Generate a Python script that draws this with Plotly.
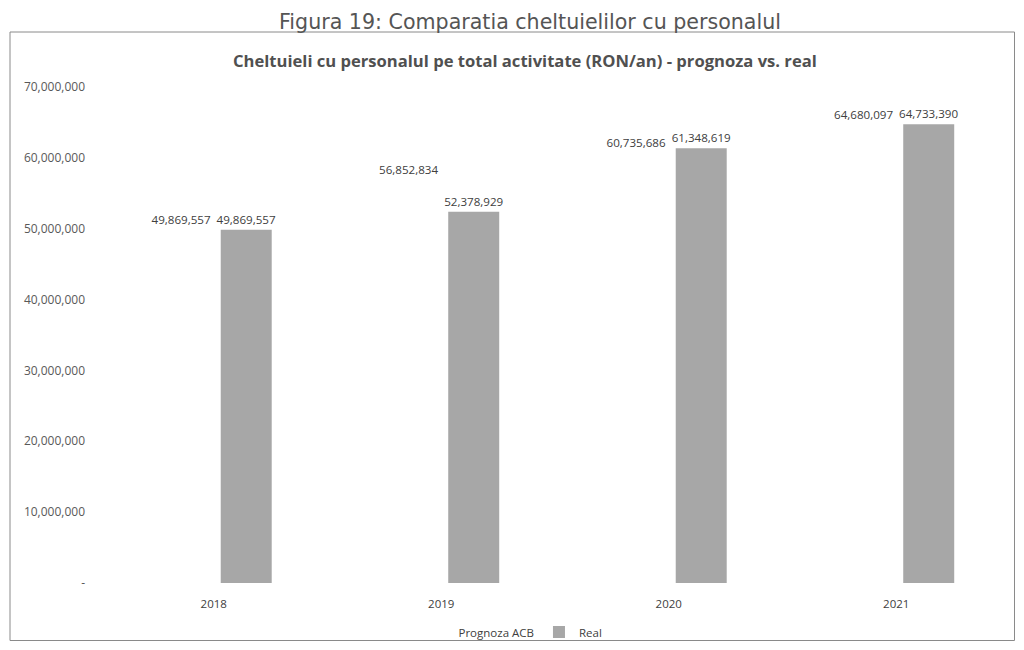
import plotly.graph_objects as go

years = ["2018", "2019", "2020", "2021"]
prognoza = [49869557, 56852834, 60735686, 64680097]
real = [49869557, 52378929, 61348619, 64733390]
y_ticks = [0, 10000000, 20000000, 30000000, 40000000, 50000000, 60000000, 70000000]
y_labels = ["-", "10,000,000", "20,000,000", "30,000,000", "40,000,000",
            "50,000,000", "60,000,000", "70,000,000"]

FONT = "Open Sans"
# page has an 8px body margin; figure sized so the page fills 1024x650
W, H = 1008, 634
L, T = 92, 79
PW, PH = 910, 496
fig = go.Figure()
fig.add_trace(go.Bar(
    x=years, y=prognoza, name="Prognoza ACB",
    marker=dict(color="white", line=dict(width=0)),
    texttemplate="%{y:,.0f}", textposition="outside", constraintext="none",
    outsidetextfont=dict(family=FONT, size=11.6, color="#404040"),
    cliponaxis=False,
))
fig.add_trace(go.Bar(
    x=years, y=real, name="Real",
    marker=dict(color="#a7a7a7", line=dict(width=0)),
    texttemplate="%{y:,.0f}", textposition="outside", constraintext="none",
    outsidetextfont=dict(family=FONT, size=11.6, color="#404040"),
    cliponaxis=False,
))


def px(xs):
    return (xs - 8 - L) / PW


def py(ys):
    return (T + PH - (ys - 8)) / PH


fig.update_layout(
    width=W, height=H,
    margin=dict(l=L, r=W - L - PW, t=T, b=H - T - PH, autoexpand=False),
    paper_bgcolor="white", plot_bgcolor="white",
    barmode="group", bargap=0.429, bargroupgap=0.215,
    font=dict(family=FONT, size=11, color="#404040"),
    showlegend=True,
    legend=dict(orientation="h", x=px(513), xanchor="center", y=py(632), yanchor="middle",
                bgcolor="rgba(0,0,0,0)",
                font=dict(family=FONT, size=11.5, color="#404040"), itemwidth=30),
    xaxis=dict(showgrid=False, showline=False, zeroline=False, ticks="",
               tickfont=dict(family=FONT, size=11.5, color="#404040"), ticklabelstandoff=12),
    yaxis=dict(range=[0, 70000000], tickvals=y_ticks, ticktext=y_labels,
               showgrid=False, showline=False, zeroline=False, ticks="",
               tickfont=dict(family=FONT, size=12, color="#595959"), ticklabelstandoff=14),
    shapes=[
        dict(type="rect", xref="paper", yref="paper",
             x0=px(10), x1=(W - 1.5 - L) / PW,
             y0=(T + PH - (H - 1.5)) / PH, y1=py(32),
             line=dict(color="#8a8a8a", width=1), fillcolor="rgba(0,0,0,0)", layer="below"),
    ],
    annotations=[
        dict(text="Figura 19: Comparatia cheltuielilor cu personalul",
             xref="paper", yref="paper", x=px(530), y=py(8), yshift=-1,
             xanchor="center", yanchor="top", showarrow=False, borderpad=0,
             font=dict(family="DejaVu Sans", size=20.6, color="#555555")),
        dict(text="<b>Cheltuieli cu personalul pe total activitate (RON/an) - prognoza vs. real</b>",
             xref="paper", yref="paper", x=px(525), y=py(60),
             xanchor="center", yanchor="middle", showarrow=False,
             font=dict(family=FONT, size=16.6, color="#505050")),
    ],
)

fig.write_html("out.html")
